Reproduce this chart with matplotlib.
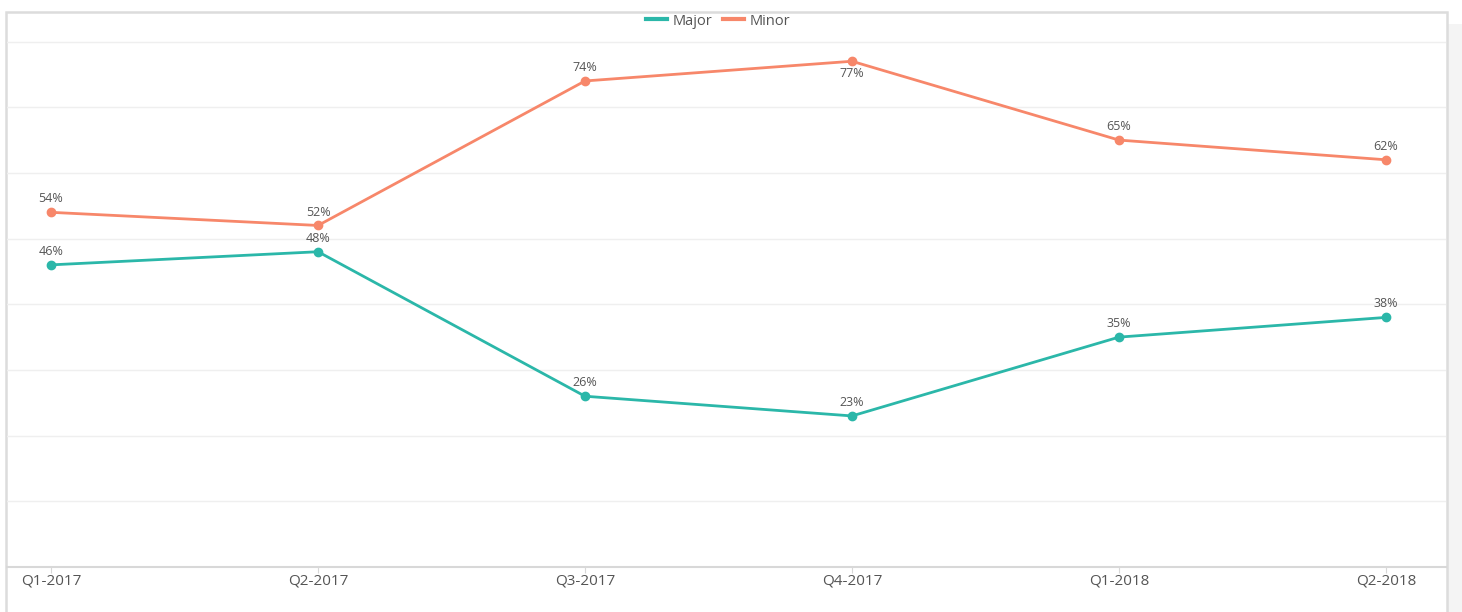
import matplotlib
matplotlib.use('agg')
import matplotlib.pyplot as plt
from matplotlib.patches import Rectangle

plt.rcParams['font.family'] = ['Open Sans', 'DejaVu Sans']

W, H = 1462, 612

quarters = ['Q1-2017', 'Q2-2017', 'Q3-2017', 'Q4-2017', 'Q1-2018', 'Q2-2018']
major = [46, 48, 26, 23, 35, 38]
minor = [54, 52, 74, 77, 65, 62]
grid_levels = [10, 20, 30, 40, 50, 60, 70, 80]

MAJOR_COLOR = '#2bb7a9'
MINOR_COLOR = '#f7876a'
TEXT_COLOR = '#555555'
GRID_COLOR = '#efefef'
BORDER_COLOR = '#dcdcdc'

fig = plt.figure(figsize=(W / 100.0, H / 100.0), dpi=100)
fig.patch.set_facecolor('white')

# gray strip on the right
fig.patches.append(Rectangle((1448.0 / W, 0), (W - 1448.0) / W, (H - 24.0) / H,
                             transform=fig.transFigure, facecolor='#f4f4f4',
                             edgecolor='none', zorder=0))
# outer chart box
fig.patches.append(Rectangle((6.0 / W, -0.05), 1441.0 / W, 0.05 + (H - 12.0) / H,
                             transform=fig.transFigure, facecolor='white',
                             edgecolor=BORDER_COLOR, lw=1.8, zorder=1))

ax = fig.add_axes([7.0 / W, 45.0 / H, 1439.0 / W, 555.0 / H])
ax.set_facecolor('none')
ax.set_zorder(2)

x = list(range(len(quarters)))
ax.set_xlim(-0.165, 5.225)
ax.set_ylim(0, 84.5)

for g in grid_levels:
    ax.axhline(g, color=GRID_COLOR, lw=1, zorder=1)

ax.plot(x, major, color=MAJOR_COLOR, lw=2.0, marker='o', markersize=6, label='Major', zorder=3)
ax.plot(x, minor, color=MINOR_COLOR, lw=2.0, marker='o', markersize=6, label='Minor', zorder=3)

for i in x:
    ax.annotate('%d%%' % major[i], (i, major[i]), xytext=(0, 5), textcoords='offset points',
                ha='center', va='bottom', fontsize=9, color=TEXT_COLOR, zorder=4)
    if minor[i] == max(minor):
        ax.annotate('%d%%' % minor[i], (i, minor[i]), xytext=(0, -4), textcoords='offset points',
                    ha='center', va='top', fontsize=9, color=TEXT_COLOR, zorder=4)
    else:
        ax.annotate('%d%%' % minor[i], (i, minor[i]), xytext=(0, 5), textcoords='offset points',
                    ha='center', va='bottom', fontsize=9, color=TEXT_COLOR, zorder=4)

for side in ['left', 'right', 'top']:
    ax.spines[side].set_visible(False)
ax.spines['bottom'].set_color('#d8d8d8')
ax.spines['bottom'].set_linewidth(1.5)

ax.set_yticks([])
ax.set_xticks(x)
ax.set_xticklabels(quarters, fontsize=11, color=TEXT_COLOR)
ax.tick_params(axis='x', length=4, color='#d8d8d8', pad=1)

leg = ax.legend(loc='upper center', bbox_to_anchor=(0.494, 1.013), ncol=2, frameon=False,
                fontsize=10.5, handlelength=1.5, handletextpad=0.35, columnspacing=0.7,
                borderaxespad=0.2)
for line in leg.get_lines():
    line.set_marker('')
    line.set_linewidth(3)
for t in leg.get_texts():
    t.set_color(TEXT_COLOR)

fig.savefig('out.png', dpi=100)
